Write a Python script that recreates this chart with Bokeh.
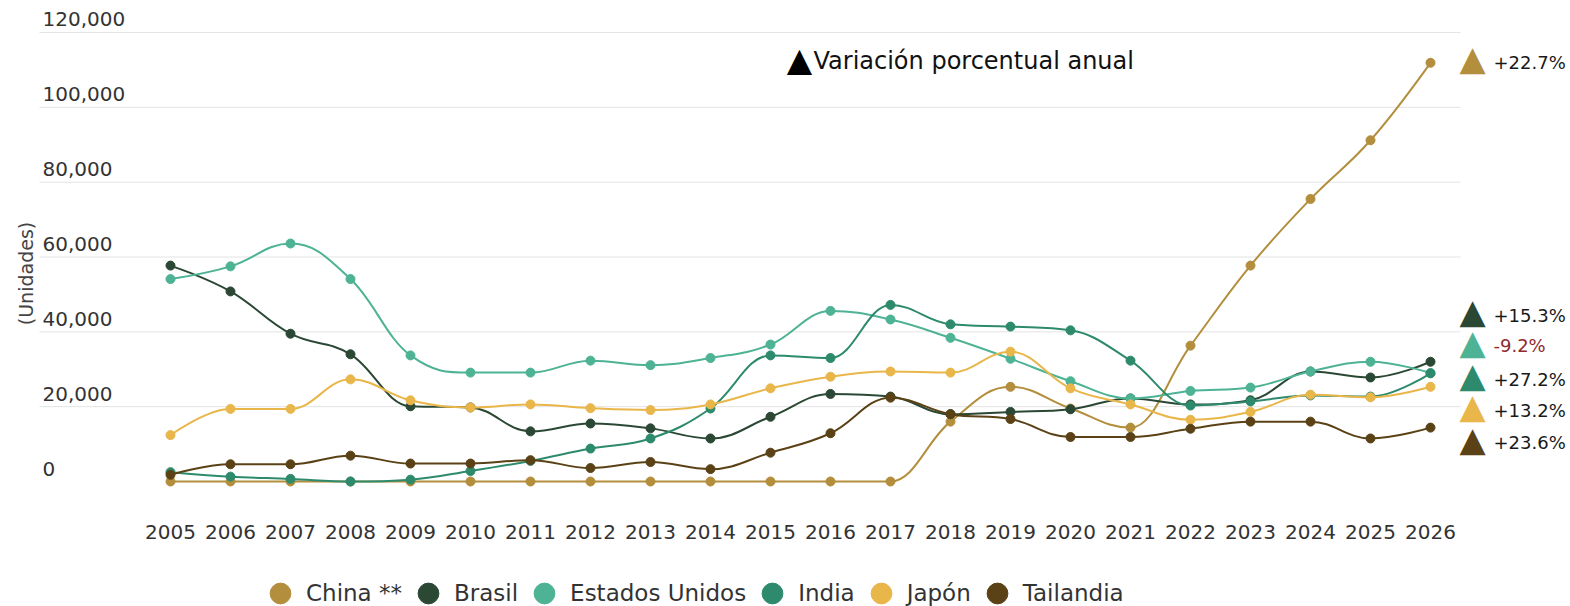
import math
from bokeh.plotting import figure
from bokeh.layouts import column
from bokeh.models import ColumnDataSource, FixedTicker, LabelSet, Label, Legend, LegendItem
from bokeh.core.properties import value
from bokeh.embed import file_html
from bokeh.resources import INLINE

# ---------------- data ----------------
years = list(range(2005, 2027))
china = [0, 0, 0, 0, 0, 0, 0, 0, 0, 0, 0, 0, 0,
         16000, 25300, 19500, 14400, 36300, 57700, 75500, 91200, 111900]
brasil = [57700, 50800, 39500, 34000, 20100, 19800, 13400, 15500, 14200, 11500, 17300,
          23400, 22700, 18000, 18600, 19300, 22200, 20600, 21700, 29400, 27800, 32000]
estados_unidos = [54100, 57500, 63600, 54100, 33700, 29100, 29100, 32300, 31100, 33000, 36600,
                  45600, 43300, 38400, 32800, 26800, 22200, 24200, 25100, 29400, 32000, 29000]
india = [2500, 1300, 700, 0, 500, 2800, 5500, 8800, 11500, 19500, 33700,
         33000, 47200, 42000, 41400, 40400, 32300, 20300, 21400, 23000, 22700, 28900]
japon = [12400, 19400, 19400, 27300, 21700, 19800, 20600, 19600, 19100, 20600, 24900,
         28000, 29400, 29100, 34700, 24900, 20600, 16500, 18600, 23200, 22500, 25300]
tailandia = [1800, 4600, 4600, 6900, 4800, 4800, 5700, 3600, 5200, 3300, 7700,
             12900, 22400, 18000, 16700, 11900, 11900, 14100, 16000, 16000, 11500, 14400]

series_names = ["China **", "Brasil", "Estados Unidos", "India", "Japón", "Tailandia"]
series_values = [china, brasil, estados_unidos, india, japon, tailandia]
series_colors = ["#B38E3D", "#2B4835", "#4DB394", "#2E8A6C", "#E9B64A", "#5A4216"]

pct_labels = ["+22.7%", "+15.3%", "-9.2%", "+27.2%", "+13.2%", "+23.6%"]
pct_text_colors = ["#1a1a1a", "#1a1a1a", "#8E2B2F", "#1a1a1a", "#1a1a1a", "#1a1a1a"]
pct_label_y = [112000, 44400, 36300, 27300, 19000, 10400]   # layout positions of the annotations

y_tick_values = [0, 20000, 40000, 60000, 80000, 100000, 120000]
y_tick_labels = ["0", "20,000", "40,000", "60,000", "80,000", "100,000", "120,000"]

FONT = "DejaVu Sans"
X_START, X_END = 2002.1667, 2028.3333
GRID_X0, GRID_X1 = 2002.8167, 2026.5
Y_START, Y_END = -2405, 128550

p = figure(width=1570, height=550, output_backend="svg", toolbar_location=None,
           x_range=(X_START, X_END), y_range=(Y_START, Y_END),
           min_border_left=0, min_border_right=0, min_border_top=0, min_border_bottom=60)
p.outline_line_color = None
p.background_fill_color = "white"
p.xgrid.visible = False
p.ygrid.visible = False
p.yaxis.visible = False

# horizontal grid lines (end before the annotation column)
gl = ColumnDataSource(dict(x0=[GRID_X0] * 6, x1=[GRID_X1] * 6, y=y_tick_values[1:]))
p.segment(x0="x0", x1="x1", y0="y", y1="y", source=gl, line_color="#e3e3e3",
          line_width=1, level="underlay")

# x axis
p.xaxis.ticker = FixedTicker(ticks=years)
p.xaxis.axis_line_color = None
p.xaxis.major_tick_line_color = None
p.xaxis.minor_tick_line_color = None
p.xaxis.major_label_text_font = FONT
p.xaxis.major_label_text_font_size = "20px"
p.xaxis.major_label_text_color = "#333333"
p.xaxis.major_label_standoff = 28

# y tick labels sitting above grid lines
ytl = ColumnDataSource(dict(x=[GRID_X0] * len(y_tick_values), y=y_tick_values, t=y_tick_labels))
p.add_layout(LabelSet(x="x", y="y", text="t", source=ytl, x_offset=3, y_offset=13,
                      text_font=value(FONT), text_font_size="20px", text_color="#333333",
                      text_baseline="middle", text_align="left"))
p.add_layout(Label(x=X_START, y=55590, x_offset=25, text="(Unidades)", angle=math.pi / 2,
                   text_font=FONT, text_font_size="19px", text_color="#444444",
                   text_align="center", text_baseline="middle"))


# Highcharts-like spline control points
def spline_segments(xs, ys, smoothing=1.5):
    n = len(xs)
    lc = [(xs[i], ys[i]) for i in range(n)]
    rc = [(xs[i], ys[i]) for i in range(n)]
    d = smoothing + 1
    for i in range(1, n - 1):
        px, py = xs[i], ys[i]
        lx, ly = xs[i - 1], ys[i - 1]
        nx, ny = xs[i + 1], ys[i + 1]
        lcx = (smoothing * px + lx) / d
        lcy = (smoothing * py + ly) / d
        rcx = (smoothing * px + nx) / d
        rcy = (smoothing * py + ny) / d
        corr = ((rcy - lcy) * (rcx - px)) / (rcx - lcx) + py - rcy
        lcy += corr
        rcy += corr
        if lcy > ly and lcy > py:
            lcy = max(ly, py); rcy = 2 * py - lcy
        elif lcy < ly and lcy < py:
            lcy = min(ly, py); rcy = 2 * py - lcy
        if rcy > ny and rcy > py:
            rcy = max(ny, py); lcy = 2 * py - rcy
        elif rcy < ny and rcy < py:
            rcy = min(ny, py); lcy = 2 * py - rcy
        lc[i] = (lcx, lcy)
        rc[i] = (rcx, rcy)
    seg = dict(x0=[], y0=[], x1=[], y1=[], cx0=[], cy0=[], cx1=[], cy1=[])
    for i in range(1, n):
        seg["x0"].append(xs[i - 1]); seg["y0"].append(ys[i - 1])
        seg["x1"].append(xs[i]); seg["y1"].append(ys[i])
        seg["cx0"].append(rc[i - 1][0]); seg["cy0"].append(rc[i - 1][1])
        seg["cx1"].append(lc[i][0]); seg["cy1"].append(lc[i][1])
    return seg


for name, vals, col in zip(series_names, series_values, series_colors):
    p.bezier(x0="x0", y0="y0", x1="x1", y1="y1", cx0="cx0", cy0="cy0", cx1="cx1", cy1="cy1",
             source=ColumnDataSource(spline_segments(years, vals)),
             line_color=col, line_width=2)
    p.scatter(years, vals, size=9, marker="circle", fill_color=col, line_color=col)

# annotation header
p.add_layout(Label(x=X_START, y=112400, x_offset=799, y_offset=1, text="▲", text_font=FONT,
                   text_font_size="33px", text_color="#000000", text_align="center",
                   text_baseline="middle"))
p.add_layout(Label(x=X_START, y=112400, x_offset=813, text="Variación porcentual anual",
                   text_font=FONT, text_font_size="24px", text_color="#111111",
                   text_align="left", text_baseline="middle"))

# right-hand annotations
ann = ColumnDataSource(dict(x=[years[-1]] * len(pct_labels), y=pct_label_y, t=pct_labels,
                            tri=["▲"] * len(pct_labels), tc=series_colors, lc=pct_text_colors))
p.add_layout(LabelSet(x="x", y="y", text="tri", source=ann, x_offset=42, y_offset=4,
                      text_font=value(FONT), text_font_size="34px", text_color="tc",
                      text_align="center", text_baseline="middle"))
p.add_layout(LabelSet(x="x", y="y", text="t", source=ann, x_offset=63, y_offset=0,
                      text_font=value(FONT), text_font_size="18px", text_color="lc",
                      text_align="left", text_baseline="middle"))

# ---------------- legend strip ----------------
pl = figure(width=1570, height=56, output_backend="svg", toolbar_location=None,
            x_range=(0, 1), y_range=(0, 1), min_border=0)
pl.outline_line_color = None
pl.axis.visible = False
pl.grid.visible = False
items = []
for name, vals, col in zip(series_names, series_values, series_colors):
    # same series data; it falls outside this strip's ranges, only the legend swatch shows
    r = pl.scatter(x=years, y=vals, marker="circle", fill_color=col, line_color=col)
    items.append(LegendItem(label=name, renderers=[r]))
legend = Legend(items=items, location=(254, -13), orientation="horizontal",
                glyph_width=52, glyph_height=52, label_standoff=0, spacing=0,
                padding=0, margin=0, border_line_alpha=0, background_fill_alpha=0,
                label_text_font=FONT, label_text_font_size="23px", label_text_color="#333333")
pl.add_layout(legend, "center")

open("out.html", "w").write(file_html(column(p, pl), INLINE))
